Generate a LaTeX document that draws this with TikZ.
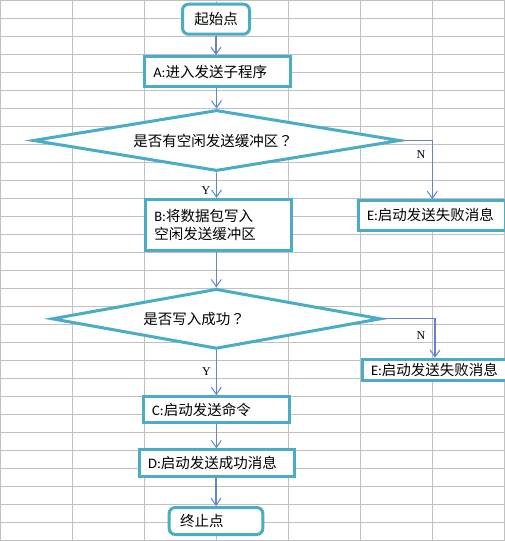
\documentclass[tikz,border=0pt]{standalone}
\usepackage{fontspec}
\setmainfont{Noto Sans CJK SC}
\newfontfamily\latf{Carlito}
\newfontfamily\ynf{Liberation Serif}
\newfontfamily\tcf{Noto Sans CJK TC}
\usetikzlibrary{shapes.geometric,arrows.meta}
\definecolor{gridc}{RGB}{192,192,192}
\definecolor{boxc}{RGB}{75,172,198}
\definecolor{arrc}{RGB}{95,135,200}
\newcommand{\lt}[1]{{\latf #1}}
\newcommand{\qm}{{\tcf ？}}
\tikzset{
  gridline/.style={draw=gridc,line width=1pt},
  base/.style={draw=boxc,line width=3pt,fill=white,font=\fontsize{14.5}{18}\selectfont,inner ysep=0pt},
  procbox/.style={base,rectangle,align=left},
  termbox/.style={base,rectangle,rounded corners=6pt},
  decbox/.style={base,diamond,inner sep=0pt,align=left,shape aspect=6.2},
  arr/.style={draw=arrc,line width=1.2pt,-{Straight Barb[length=7pt,width=10pt,line width=1pt]}},
  ynlab/.style={font=\ynf\fontsize{12}{12}\selectfont,inner sep=0pt}
}
\begin{document}
\begin{tikzpicture}[x=1pt,y=-1pt]
\useasboundingbox (0,0) rectangle (505,541);
\clip (0,0) rectangle (505,541);
\fill[white] (0,0) rectangle (505,541);
\foreach \i in {0,...,7} \draw[gridline] (0.5+72*\i,0) -- (0.5+72*\i,541);
\foreach \j in {0,...,30} \draw[gridline] (0,0.5+18*\j) -- (505,0.5+18*\j);

\node[termbox,minimum width=67pt,minimum height=30pt] (start) at (216,19.2) {起始点};
\node[procbox,minimum height=30.3pt,text width=128.7pt,inner xsep=8.5pt] (a) at (217.7,71.7) {\lt{A:}进入发送子程序};
\node[decbox,minimum width=367pt,minimum height=61pt,text width=166.4pt] (d1) at (216.5,140.5) {是否有空闲发送缓冲区\qm};
\node[procbox,minimum height=51pt,text width=128.4pt,inner xsep=8.5pt] (b) at (218.5,224.7) {\lt{B:}将数据包写入\\空闲发送缓冲区};
\node[procbox,minimum height=29.5pt,text width=130.6pt,inner xsep=8.2pt] (e1) at (432.3,215.3) {\lt{E:}启动发送失败消息};
\node[decbox,minimum width=329pt,minimum height=60pt,text width=146pt] (d2) at (216.3,318.8) {是否写入成功\qm};
\node[procbox,minimum height=21pt,text width=128pt,inner xsep=8.5pt] (e2) at (435,369.7) {\lt{E:}启动发送失败消息};
\node[procbox,minimum height=26.3pt,text width=128.3pt,inner xsep=9pt] (c) at (216.3,409.7) {\lt{C:}启动发送命令};
\node[procbox,minimum height=26.4pt,text width=137.3pt,inner xsep=9pt] (d) at (216.8,463) {\lt{D:}启动发送成功消息};
\node[termbox,minimum height=27pt,text width=72pt,inner xsep=10.8pt,align=left] (end) at (216,521) {终止点};

\draw[arr] (start.south) -- (start.south |- a.north);
\draw[arr] (d1.north |- a.south) -- (d1.north);
\draw[arr] (d1.south) -- (d1.south |- b.north);
\draw[arr] (d1.east) -| (e1.north);
\draw[arr] (d2.north |- b.south) -- (d2.north);
\draw[arr] (d2.south) -- (d2.south |- c.north);
\draw[arr] (d2.east) -| (e2.north);
\draw[arr] (d2.south |- c.south) -- (d2.south |- d.north);
\draw[arr] (end.north |- d.south) -- (end.north);

\node[ynlab] (n1) at (421,155) {N};
\node[ynlab] (y1) at (206,190.7) {Y};
\node[ynlab] (n2) at (421,336) {N};
\node[ynlab] (y2) at (206.5,371.7) {Y};
\end{tikzpicture}
\end{document}
